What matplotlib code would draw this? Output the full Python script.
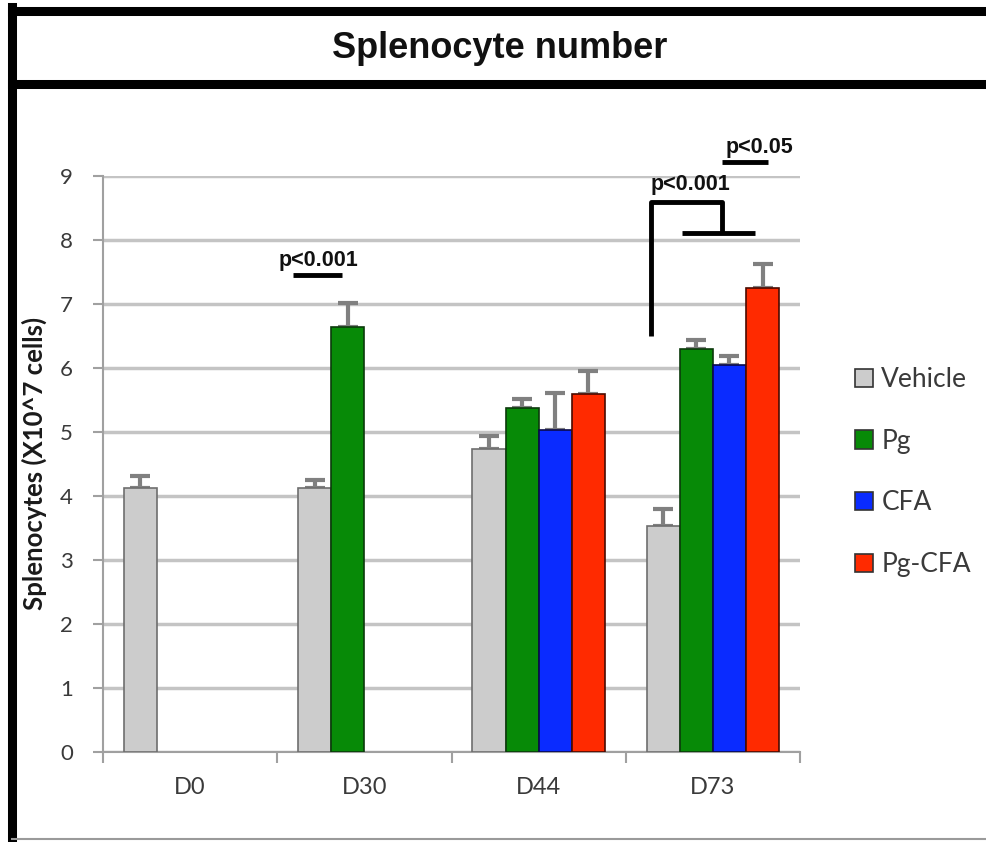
import matplotlib
matplotlib.use("Agg")
import matplotlib.pyplot as plt
from matplotlib.lines import Line2D
from matplotlib.patches import Patch
import numpy as np

title = "Splenocyte number"
categories = ["D0", "D30", "D44", "D73"]
series = ["Vehicle", "Pg", "CFA", "Pg-CFA"]
vehicle = [4.12, 4.12, 4.73, 3.53]
vehicle_err = [0.2, 0.13, 0.2, 0.26]
pg = [np.nan, 6.64, 5.37, 6.29]
pg_err = [np.nan, 0.38, 0.15, 0.15]
cfa = [np.nan, np.nan, 5.03, 6.05]
cfa_err = [np.nan, np.nan, 0.58, 0.14]
pgcfa = [np.nan, np.nan, 5.6, 7.25]
pgcfa_err = [np.nan, np.nan, 0.36, 0.37]
ylabel = "Splenocytes (X10^7 cells)"
yticks = list(range(0, 10))

values = [vehicle, pg, cfa, pgcfa]
errors = [vehicle_err, pg_err, cfa_err, pgcfa_err]
colors = ["#cccccc", "#078a07", "#0a2bff", "#ff2a00"]
edges = ["#6e6e6e", "#0b3a0b", "#0a0a4a", "#4a0a00"]

W, H = 986, 842
fig = plt.figure(figsize=(W / 100, H / 100), dpi=100)
fig.patch.set_facecolor("white")

def fx(px):
    return px / W

def fy(py):
    return 1 - py / H

# frame
fig.add_artist(Line2D([fx(12), fx(12)], [fy(7), fy(842)], color="black", lw=6.5, transform=fig.transFigure))
fig.add_artist(Line2D([fx(12), fx(986)], [fy(11), fy(11)], color="black", lw=6.5, transform=fig.transFigure))
fig.add_artist(Line2D([fx(12), fx(986)], [fy(84), fy(84)], color="black", lw=6.5, transform=fig.transFigure))
fig.add_artist(Line2D([fx(12), fx(986)], [fy(839), fy(839)], color="#9a9a9a", lw=1.5, transform=fig.transFigure))
fig.text(fx(500), fy(48), title, ha="center", va="center", fontsize=26, fontweight="bold",
         family="Liberation Sans", color="#111111")

ax = fig.add_axes([fx(103), fy(752), fx(800) - fx(103), fy(176) - fy(752)])
ax.set_xlim(-0.5, 3.5)
ax.set_ylim(0, 9)

x = np.arange(len(categories))
w = 0.19
for j, (vals, errs) in enumerate(zip(values, errors)):
    pos = x + (j - 1.5) * w
    ax.bar(pos, vals, width=w, color=colors[j], edgecolor=edges[j], linewidth=1.2, zorder=3,
           label=series[j])
    ax.errorbar(pos, vals, yerr=[np.zeros(len(errs)), errs], fmt="none", ecolor="#808080",
                elinewidth=3, capsize=7, capthick=3, zorder=2)

ax.set_yticks(yticks)
ax.yaxis.grid(True, color="#c4c4c4", linewidth=2.5, zorder=0)
ax.set_axisbelow(True)
for s in ["top", "right"]:
    ax.spines[s].set_visible(False)
ax.spines["left"].set_color("#a0a0a0")
ax.spines["left"].set_linewidth(1.5)
ax.spines["bottom"].set_color("#a0a0a0")
ax.spines["bottom"].set_linewidth(1.5)
ax.tick_params(axis="y", length=7.5, width=1.5, color="#a0a0a0", labelsize=16, labelcolor="#3a3a3a", pad=14)
ax.set_xticks([-0.5, 0.5, 1.5, 2.5, 3.5], minor=False)
ax.set_xticklabels([])
ax.tick_params(axis="x", length=8, width=1.5, color="#a0a0a0")
ax.set_xticks(x, minor=True)
ax.set_xticklabels(categories, minor=True, fontsize=17, color="#3a3a3a", family="Lato")
ax.tick_params(axis="x", which="minor", length=0, pad=18)
for lab in ax.get_yticklabels():
    lab.set_family("Lato")
ax.set_ylabel(ylabel, fontsize=18.5, color="#1a1a1a", family="Lato", fontweight="bold")
ax.yaxis.set_label_coords(-(103 - 47) / (800 - 103), (752 - 463) / 576)

# significance annotations
k = dict(color="black", lw=3.5, clip_on=False, solid_capstyle="butt")
tk = dict(ha="center", va="baseline", fontsize=15.5, fontweight="bold",
          family="Liberation Sans", color="#111111", clip_on=False)
ax.plot([0.59, 0.87], [7.45, 7.45], **k)
ax.text(0.735, 7.6, "p<0.001", **tk)
ax.plot([2.646, 2.646, 3.053, 3.053], [6.5, 8.6, 8.6, 8.11], **k)
ax.plot([2.824, 3.243], [8.11, 8.11], **k)
ax.text(2.87, 8.78, "p<0.001", **tk)
ax.plot([3.053, 3.317], [9.22, 9.22], **k)
ax.text(3.27, 9.36, "p<0.05", **tk)

handles = [Patch(facecolor=colors[j], edgecolor="#333333", linewidth=1.2) for j in range(4)]
leg = fig.legend(handles, series, loc="center left", bbox_to_anchor=(fx(855), fy(472)),
                 frameon=False, borderpad=0, borderaxespad=0, handlelength=0.7, handleheight=0.7,
                 handletextpad=0.3, labelspacing=1.39, prop={"family": "Lato", "size": 19})
for t in leg.get_texts():
    t.set_color("#3a3a3a")

fig.savefig("out.png", dpi=100, facecolor="white")
